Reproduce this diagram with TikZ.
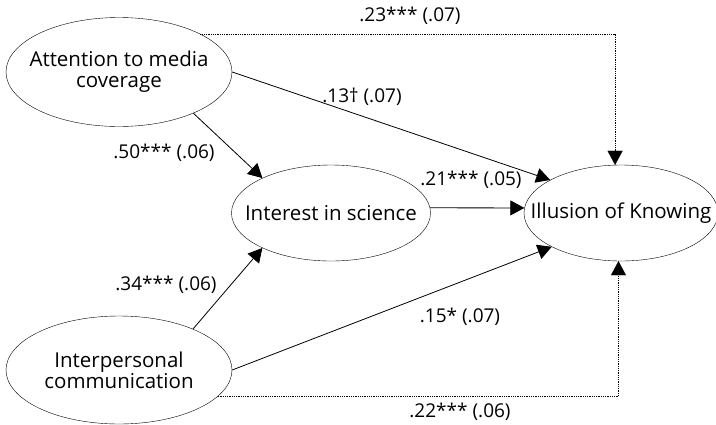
\documentclass[tikz,border=0pt]{standalone}
\usepackage{fontspec}
\setmainfont{Open Sans}
\usetikzlibrary{arrows.meta,shapes.geometric,calc}
\begin{document}
\begin{tikzpicture}[x=1pt,y=-1pt,
  var/.style={draw,ellipse,inner sep=0pt},
  vtext/.style={align=center,font=\fontsize{20.5}{21}\selectfont},
  lab/.style={font=\fontsize{19}{20}\selectfont,inner sep=0pt},
  arr/.style={-{Triangle[length=14pt,width=15pt]},line width=0.8pt},
  dot/.style={densely dotted,line width=0.8pt,-{Triangle[length=14pt,width=15pt,line width=0.1pt]}},
]
\useasboundingbox (0,0) rectangle (716,424);
\node[var,minimum width=226pt,minimum height=109pt,label={[vtext]center:Attention to media\\coverage}] (att) at (119,72) {};
\node[var,minimum width=199pt,minimum height=96pt,label={[vtext]center:Interest in science}] (int) at (331,213) {};
\node[var,minimum width=194pt,minimum height=96pt,label={[vtext]center:Illusion of Knowing}] (ill) at (621,213) {};
\node[var,minimum width=226pt,minimum height=108pt,label={[vtext]center:Interpersonal\\communication}] (ip) at (119,370) {};

\draw[arr] (att.east) -- (ill.155);
\draw[arr] (att.-29) -- (int.153);
\draw[arr] (int.3) -- (ill.177);
\draw[arr] (ip.29.6) -- (int.207);
\draw[arr] (ip.east) -- (ill.206);
\draw[dot] (att.25) -| (ill.97);
\draw[dot] (ip.-15) -| (ill.-93);

\node[lab] (l1) at (410,16) {.23*** (.07)};
\node[lab] (l2) at (362,97) {.13† (.07)};
\node[lab] (l3) at (164,153) {.50*** (.06)};
\node[lab] (l4) at (471,180) {.21*** (.05)};
\node[lab] (l5) at (166,285) {.34*** (.06)};
\node[lab] (l6) at (460,317) {.15* (.07)};
\node[lab] (l7) at (460,412) {.22*** (.06)};
\end{tikzpicture}
\end{document}
